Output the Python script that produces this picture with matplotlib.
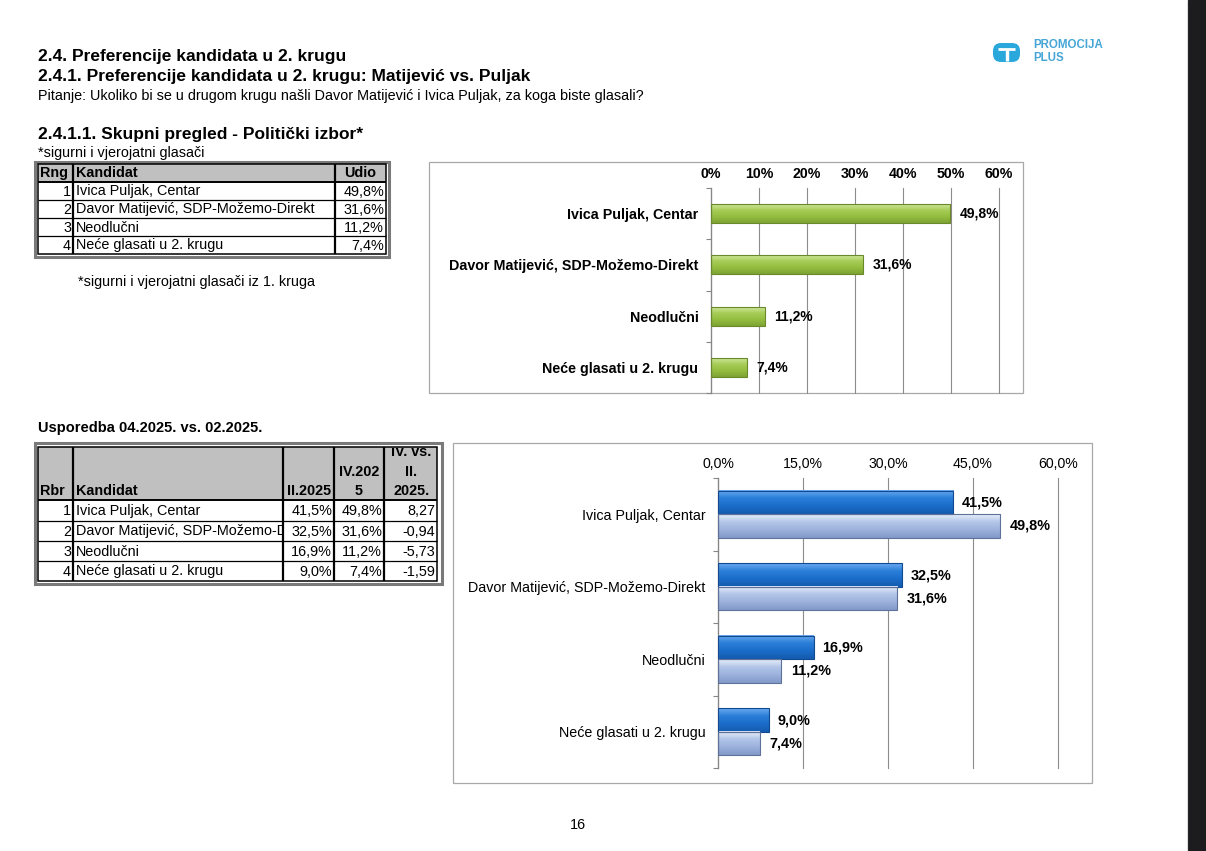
import numpy as np
import matplotlib.pyplot as plt
from matplotlib.patches import Rectangle, FancyBboxPatch
from matplotlib.colors import LinearSegmentedColormap
from matplotlib.transforms import Bbox, TransformedBbox

plt.rcParams['font.family'] = ['Liberation Sans', 'DejaVu Sans']

# data
candidates = ["Ivica Puljak, Centar", "Davor Matijević, SDP-Možemo-Direkt",
              "Neodlučni", "Neće glasati u 2. krugu"]
ranks = [1, 2, 3, 4]
share_apr = [49.8, 31.6, 11.2, 7.4]   # IV.2025
share_feb = [41.5, 32.5, 16.9, 9.0]   # II.2025
change = [8.27, -0.94, -5.73, -1.59]  # IV. vs. II. 2025.
ticks_top = [0, 10, 20, 30, 40, 50, 60]
ticks_cmp = [0, 15, 30, 45, 60]


def pct(v):
    return f"{v:.1f}%".replace('.', ',')


W, H = 1206, 851
fig = plt.figure(figsize=(W / 100, H / 100), dpi=100)
page = fig.add_axes([0, 0, 1, 1])
page.set_xlim(0, W)
page.set_ylim(H, 0)
page.axis('off')


def px_axes(x0, y0, x1, y1):
    ax = fig.add_axes([x0 / W, 1 - y1 / H, (x1 - x0) / W, (y1 - y0) / H])
    ax.patch.set_alpha(0)
    return ax


def txt(x, y, s, size=10.4, weight='normal', ha='left', color='black', clip=None):
    t = page.text(x, y, s, fontsize=size, fontweight=weight, ha=ha, va='center', color=color)
    if clip is not None:
        t.set_clip_on(True)
        t.set_clip_box(TransformedBbox(Bbox(clip), page.transData))
    return t


def line(x0, y0, x1, y1, lw=0.8, color='black'):
    page.plot([x0, x1], [y0, y1], color=color, lw=lw, solid_capstyle='butt')


def shade(ax, bars, colors, edge):
    cmap = LinearSegmentedColormap.from_list('bar', colors)
    g = np.linspace(0, 1, 64).reshape(-1, 1)
    for b in bars:
        x, yb, w, h = b.get_x(), b.get_y(), b.get_width(), b.get_height()
        ax.imshow(g, cmap=cmap, extent=(x, x + w, yb + h, yb), origin='upper',
                  aspect='auto', zorder=2.5, interpolation='bilinear')
        ax.add_patch(Rectangle((x, yb), w, h, fill=False, ec=edge, lw=0.8, zorder=3))


# page frame on the right
page.add_patch(Rectangle((1188, 0), 18, H, fc='#1c1c1e', ec='none'))
line(1187, 0, 1187, H, lw=0.8, color='#dcdcdc')

# headings
txt(38, 57, "2.4. Preferencije kandidata u 2. krugu", size=12.5, weight='bold')
txt(38, 77, "2.4.1. Preferencije kandidata u 2. krugu: Matijević vs. Puljak", size=12.5, weight='bold')
txt(38, 96, "Pitanje: Ukoliko bi se u drugom krugu našli Davor Matijević i Ivica Puljak, za koga biste glasali?")
txt(38, 135, "2.4.1.1. Skupni pregled - Politički izbor*", size=12.5, weight='bold')
txt(38, 153, "*sigurni i vjerojatni glasači")
txt(78, 282, "*sigurni i vjerojatni glasači iz 1. kruga")
txt(38, 428, "Usporedba 04.2025. vs. 02.2025.", size=10.5, weight='bold')
txt(578, 825, "16", ha='center')

# logo
page.add_patch(FancyBboxPatch((993, 43), 27, 19, boxstyle='round,pad=0,rounding_size=8',
                              fc='#2aa8dc', ec='none'))
line(998, 48.5, 1015, 48.5, lw=2.0, color='white')
line(1006.5, 48.5, 1006.5, 61, lw=2.4, color='white')
txt(1033, 45, "PROMOCIJA", size=8.3, weight='bold', color='#45a6d6')
txt(1033, 58, "PLUS", size=8.3, weight='bold', color='#45a6d6')

# table 1
cx = [38, 73, 335, 386]
ry = [164, 182, 200, 218, 236, 254]
page.add_patch(Rectangle((35, 162), 354, 95, fill=False, ec='#7a7a7a', lw=2.2))
page.add_patch(Rectangle((cx[0], ry[0]), cx[-1] - cx[0], ry[1] - ry[0], fc='#c0c0c0', ec='none'))
page.add_patch(Rectangle((cx[0], ry[0]), cx[-1] - cx[0], ry[-1] - ry[0], fill=False, ec='black', lw=1.1))
for x in cx[1:-1]:
    line(x, ry[0], x, ry[-1], lw=1.6)
for k, yy in enumerate(ry[1:-1]):
    line(cx[0], yy, cx[-1], yy, lw=1.4 if k == 0 else 0.9)
hy = (ry[0] + ry[1]) / 2
txt(40, hy, "Rng", weight='bold')
txt(76, hy, "Kandidat", weight='bold')
txt((cx[2] + cx[3]) / 2, hy, "Udio", weight='bold', ha='center')
for i in range(len(candidates)):
    yc = (ry[i + 1] + ry[i + 2]) / 2 + 0.5
    txt(cx[1] - 2, yc, str(ranks[i]), ha='right')
    txt(cx[1] + 3, yc, candidates[i])
    txt(cx[3] - 2, yc, pct(share_apr[i]), ha='right')

# table 2
cx2 = [38, 73, 283, 334, 384, 437]
ry2 = [447, 500, 521, 541, 561, 581]
page.add_patch(Rectangle((35, 443), 407, 141, fill=False, ec='#7a7a7a', lw=2.2))
page.add_patch(Rectangle((cx2[0], ry2[0]), cx2[-1] - cx2[0], ry2[1] - ry2[0], fc='#c0c0c0', ec='none'))
page.add_patch(Rectangle((cx2[0], ry2[0]), cx2[-1] - cx2[0], ry2[-1] - ry2[0], fill=False, ec='black', lw=1.1))
for x in cx2[1:-1]:
    line(x, ry2[0], x, ry2[-1], lw=1.6)
for k, yy in enumerate(ry2[1:-1]):
    line(cx2[0], yy, cx2[-1], yy, lw=1.4 if k == 0 else 0.9)
head_clip = [[cx2[0], ry2[0] + 0.5], [cx2[-1], ry2[1]]]
txt(40, 491, "Rbr", weight='bold')
txt(76, 491, "Kandidat", weight='bold')
txt((cx2[2] + cx2[3]) / 2 + 1, 491, "II.2025", weight='bold', ha='center')
for k, s in enumerate(["5", "IV.202"]):
    txt((cx2[3] + cx2[4]) / 2, 491 - 19.5 * k, s, weight='bold', ha='center')
for k, s in enumerate(["2025.", "II.", "IV. vs."]):
    txt((cx2[4] + cx2[5]) / 2 + 1, 491 - 19.5 * k, s, weight='bold', ha='center', clip=head_clip)
name_clip = [[cx2[1], ry2[1]], [cx2[2] - 1, ry2[-1]]]
for i in range(len(candidates)):
    yc = (ry2[i + 1] + ry2[i + 2]) / 2 + 0.5
    txt(cx2[1] - 2, yc, str(ranks[i]), ha='right')
    # the cell cuts long names off at the column edge
    txt(cx2[1] + 3, yc, candidates[i][:29], clip=name_clip)
    txt(cx2[3] - 2, yc, pct(share_feb[i]), ha='right')
    txt(cx2[4] - 2, yc, pct(share_apr[i]), ha='right')
    txt(cx2[5] - 2, yc, f"{change[i]:.2f}".replace('.', ','), ha='right')

# chart boxes
page.add_patch(Rectangle((429, 162), 594, 231, fill=False, ec='#a8a8a8', lw=0.9))
page.add_patch(Rectangle((453, 443), 639, 340, fill=False, ec='#a8a8a8', lw=0.9))

ypos = np.arange(len(candidates))


def style_axis(ax, ticks, labels, weight):
    ax.set_xlim(0, ticks[-1])
    ax.set_ylim(len(candidates) - 0.5, -0.5)
    ax.xaxis.tick_top()
    ax.set_xticks(ticks)
    ax.set_xticklabels(labels, fontweight=weight)
    ax.set_yticks(ypos)
    ax.set_yticklabels(candidates, fontweight=weight)
    ax.set_yticks(np.arange(-0.5, len(candidates)), minor=True)
    ax.tick_params(axis='x', length=0, pad=5, labelsize=10.2)
    ax.tick_params(axis='y', which='major', length=0, pad=9, labelsize=10.3)
    ax.tick_params(axis='y', which='minor', length=3.5, width=0.8, color='#868686')
    for s in ['top', 'right', 'bottom']:
        ax.spines[s].set_visible(False)
    ax.spines['left'].set_color('#868686')
    ax.spines['left'].set_linewidth(0.9)
    ax.grid(axis='x', color='#8c8c8c', lw=0.8)
    for gl in ax.get_xgridlines():
        gl.set_clip_on(False)
    ax.set_axisbelow(True)


# chart 1: overall
ax1 = px_axes(711, 188, 999, 393)
b1 = ax1.barh(ypos, share_apr, height=0.37, color='#9cc444', zorder=2)
shade(ax1, b1, ['#cde59a', '#a6cc55', '#93bd3f', '#7ea334'], '#6a8a2a')
style_axis(ax1, ticks_top, [f"{t}%" for t in ticks_top], 'bold')
for i, v in enumerate(share_apr):
    ax1.annotate(pct(v), (v, ypos[i]), xytext=(7, 0), textcoords='offset points',
                 va='center', fontsize=10, fontweight='bold')

# chart 2: comparison
ax2 = px_axes(718, 478, 1058, 768)
h = 0.324
b_feb = ax2.barh(ypos - h / 2, share_feb, height=h, color='#1f6fcc', zorder=2)
b_apr = ax2.barh(ypos + h / 2, share_apr, height=h, color='#9db3df', zorder=2)
shade(ax2, b_feb, ['#6aaaf0', '#2a7ed8', '#1a6cc8', '#155bb0'], '#114a90')
shade(ax2, b_apr, ['#e6eefa', '#b3c6e8', '#9bb1dc', '#8299c8'], '#5f7199')
style_axis(ax2, ticks_cmp, [pct(t) for t in ticks_cmp], 'normal')
for i in range(len(candidates)):
    ax2.annotate(pct(share_feb[i]), (share_feb[i], ypos[i] - h / 2), xytext=(6, 0),
                 textcoords='offset points', va='center', fontsize=10.4, fontweight='bold')
    ax2.annotate(pct(share_apr[i]), (share_apr[i], ypos[i] + h / 2), xytext=(7, 0),
                 textcoords='offset points', va='center', fontsize=10.4, fontweight='bold')

fig.savefig('out.png', dpi=100)
